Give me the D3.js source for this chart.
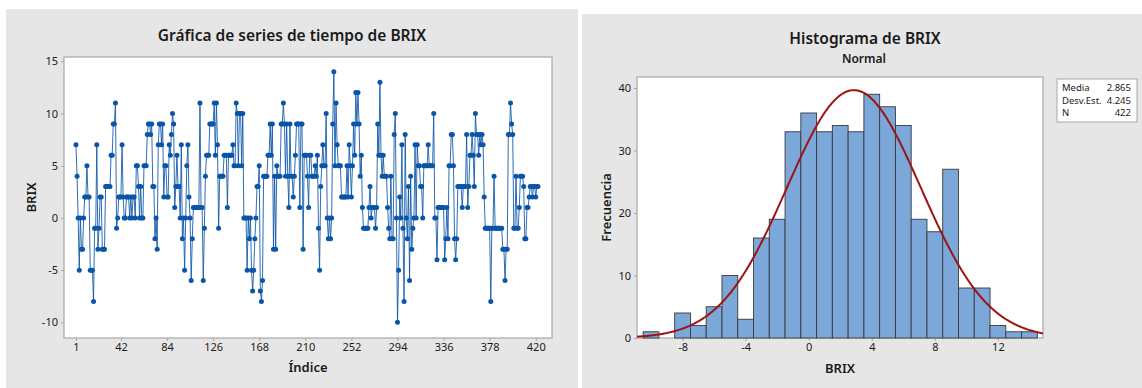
<!DOCTYPE html>
<html>
<head>
<meta charset="utf-8">
<script src="https://cdn.jsdelivr.net/npm/d3@7"></script>
<style>
  body { margin: 0; background: #fff; }
  text { font-family: "Noto Sans", "Open Sans", sans-serif; fill: #1a1a1a; }
</style>
</head>
<body>
<svg id="chart" width="1142" height="388"></svg>
<script>
// BRIX readings in order (index 1..422)
const brix = [
  7, 4, 0, -5, 0, -3, -3, 0, 2, 2,
  5, 2, 2, -5, -5, -5, -8, -1, -1, 7,
  -3, -1, 2, 2, -3, -3, -3, 3, 3, 3,
  3, 3, 6, 6, 9, 9, 11, -1, 0, 2,
  2, 2, 7, 2, 0, 0, 2, 2, 2, 0,
  2, 0, 2, 2, 0, 5, 5, 3, 0, 3,
  0, 0, 5, 5, 5, 8, 9, 9, 8, 9,
  3, 3, -2, 0, -3, 7, 9, 9, 7, 9,
  2, 5, 5, 2, 2, 7, 6, 8, 10, 9,
  1, 3, 6, 3, 3, 0, 7, -2, 0, -5,
  0, 5, 7, 2, 0, -6, -2, 1, 1, 1,
  1, 1, 1, 11, 1, 1, -6, -1, 4, 6,
  6, 6, 9, 9, 9, 9, 11, 6, 11, 7,
  -1, 4, 4, 4, 4, 6, 6, 6, 1, 6,
  6, 6, 6, 7, 5, 5, 11, 10, 5, 10,
  10, 5, 10, 0, 0, 0, -5, 0, -2, 0,
  -5, -7, -5, -2, 0, 3, 3, 5, -7, -8,
  -6, 4, 4, 4, 4, 6, 6, 9, 6, 9,
  -3, 4, -3, 5, 4, 4, 4, 9, 9, 11,
  9, 4, 9, 4, 1, 9, 4, 4, 2, 4,
  6, 9, 9, 9, 1, 9, 9, -3, 6, 6,
  6, 4, 1, 6, 6, 4, 4, 4, 5, 4,
  6, -1, -5, 3, 5, 7, 5, 5, 10, 0,
  -2, 0, -2, 0, 9, 14, 5, 11, 7, 5,
  5, 5, 2, 2, 2, 2, 2, 5, 2, 7,
  5, 2, 5, 9, 6, 12, 9, 12, 9, 4,
  6, 1, -1, -1, -1, -1, -1, 1, 3, 0,
  1, 1, 1, -1, 1, 9, 6, 13, 6, 4,
  6, 4, 4, 4, 1, -1, -2, 4, -2, -2,
  8, 10, 0, -10, -5, 2, 0, 7, -1, -8,
  8, 0, -2, 3, -6, 4, -3, -1, 0, 7,
  0, 7, 5, 5, 3, 3, 0, 5, 5, 5,
  5, 7, 5, 5, 5, 5, 10, 0, 0, -4,
  1, 1, 1, 1, 1, 1, -4, -2, 1, -2,
  5, 5, 8, 8, 5, -2, -4, -2, 3, 3,
  3, 3, 1, 3, 3, 3, 8, 1, 3, 6,
  6, 8, 6, 3, 10, 8, 8, 6, 8, 7,
  8, 7, 2, -1, -1, -1, -1, -1, -8, -1,
  -1, 4, -1, -1, -1, -1, -1, -1, -1, -3,
  -3, -6, -3, -3, 8, 8, 11, 9, 8, -1,
  -1, 4, -1, -1, 1, 4, 4, 4, 3, -2,
  -2, 1, 1, 2, 3, 3, 2, 3, 3, 2,
  3, 3
];

// histogram bins (centre values) and frequencies
const binCenters = [-10, -9, -8, -7, -6, -5, -4, -3, -2, -1, 0, 1, 2, 3, 4, 5, 6, 7, 8, 9, 10, 11, 12, 13, 14];
const binCounts  = [  1,  0,  4,  2,  5, 10,  3, 16, 19, 33, 36, 33, 34, 33, 39, 37, 34, 19, 17, 27,  8,  8,  2,  1,  1];

const indexTicks = [1, 42, 84, 126, 168, 210, 252, 294, 336, 378, 420];
const brixTicks = [-10, -5, 0, 5, 10, 15];
const histTicks = [-8, -4, 0, 4, 8, 12];
const freqTicks = [0, 10, 20, 30, 40];

const statLabels = ["Media", "Desv.Est.", "N"];
const statValues = ["2.865", "4.245", "422"];
const fitMean = 2.865;
const fitSd = 4.245;
const fitN = 422;

const BLUE = "#0a55a8";
const FRAME = "#a8a8a8";
const PANEL = "#e6e6e6";

const svg = d3.select("#chart");

// panel backgrounds
svg.append("rect").attr("x", 6).attr("y", 9).attr("width", 572).attr("height", 379).attr("fill", PANEL);
svg.append("rect").attr("x", 582).attr("y", 14).attr("width", 560).attr("height", 374).attr("fill", PANEL);

// plain hyphen for negatives, like the original software
const plain = d => String(d);

function styleAxis(g) {
    g.select(".domain").remove();
    g.selectAll(".tick line").attr("stroke", FRAME);
    g.selectAll(".tick text")
        .style("font-size", "11px")
        .style("fill", "#1a1a1a")
        .style("font-family", "\"Noto Sans\", sans-serif");
}

// ---------- time series ----------
const ts = { left: 64, right: 552, top: 57, bottom: 338 };

const xIdx = d3.scaleLinear()
    .domain([-9.9, 434.8])
    .range([ts.left, ts.right]);

const yBrix = d3.scaleLinear()
    .domain([-11.5, 15.41])
    .range([ts.bottom, ts.top]);

svg.append("rect")
    .attr("x", ts.left).attr("y", ts.top)
    .attr("width", ts.right - ts.left).attr("height", ts.bottom - ts.top)
    .attr("fill", "#fff").attr("stroke", FRAME).attr("stroke-width", 1.2);

svg.append("g")
    .attr("transform", `translate(0,${ts.bottom})`)
    .call(d3.axisBottom(xIdx).tickValues(indexTicks).tickFormat(plain).tickSize(3).tickPadding(2))
    .call(styleAxis);

svg.append("g")
    .attr("transform", `translate(${ts.left},0)`)
    .call(d3.axisLeft(yBrix).tickValues(brixTicks).tickFormat(plain).tickSize(3).tickPadding(3))
    .call(styleAxis);

const line = d3.line()
    .x((d, i) => xIdx(i + 1))
    .y(d => yBrix(d));

svg.append("path")
    .datum(brix)
    .attr("d", line)
    .attr("fill", "none")
    .attr("stroke", BLUE)
    .attr("stroke-width", 1)
    .attr("stroke-opacity", 0.85);

svg.append("g")
    .selectAll("circle")
    .data(brix)
    .join("circle")
    .attr("cx", (d, i) => xIdx(i + 1))
    .attr("cy", d => yBrix(d))
    .attr("r", 2.5)
    .attr("fill", BLUE);

svg.append("text")
    .attr("x", 292).attr("y", 41)
    .attr("text-anchor", "middle")
    .style("font-size", "15.5px").style("font-weight", 600)
    .text("Gráfica de series de tiempo de BRIX");

svg.append("text")
    .attr("x", (ts.left + ts.right) / 2).attr("y", 372)
    .attr("text-anchor", "middle")
    .style("font-size", "13px").style("font-weight", 600)
    .text("Índice");

svg.append("text")
    .attr("transform", `translate(36,${(ts.top + ts.bottom) / 2}) rotate(-90)`)
    .attr("text-anchor", "middle")
    .style("font-size", "13px").style("font-weight", 600)
    .text("BRIX");

// ---------- histogram ----------
const hs = { left: 637, right: 1043, top: 77, bottom: 338 };

const xHist = d3.scaleLinear()
    .domain([-10.89, 14.86])
    .range([hs.left, hs.right]);

const yFreq = d3.scaleLinear()
    .domain([0, 41.76])
    .range([hs.bottom, hs.top]);

svg.append("rect")
    .attr("x", hs.left).attr("y", hs.top)
    .attr("width", hs.right - hs.left).attr("height", hs.bottom - hs.top)
    .attr("fill", "#fff").attr("stroke", FRAME).attr("stroke-width", 1.2);

svg.append("g")
    .attr("transform", `translate(0,${hs.bottom})`)
    .call(d3.axisBottom(xHist).tickValues(histTicks).tickFormat(plain).tickSize(3).tickPadding(2))
    .call(styleAxis);

svg.append("g")
    .attr("transform", `translate(${hs.left},0)`)
    .call(d3.axisLeft(yFreq).tickValues(freqTicks).tickFormat(plain).tickSize(3).tickPadding(3))
    .call(styleAxis);

const bins = binCenters.map((c, i) => ({ c, n: binCounts[i] })).filter(b => b.n > 0);

svg.append("g")
    .selectAll("rect")
    .data(bins)
    .join("rect")
    .attr("x", d => xHist(d.c - 0.5))
    .attr("y", d => yFreq(d.n))
    .attr("width", d => xHist(d.c + 0.5) - xHist(d.c - 0.5))
    .attr("height", d => yFreq(0) - yFreq(d.n))
    .attr("fill", "#7ba7d9")
    .attr("stroke", "#3a3a3a")
    .attr("stroke-width", 0.9);

// fitted normal curve scaled to counts (bin width 1)
const curveX = d3.range(xHist.domain()[0], xHist.domain()[1] + 0.001, 0.05);
const pdf = x => fitN / (fitSd * Math.sqrt(2 * Math.PI)) * Math.exp(-0.5 * ((x - fitMean) / fitSd) ** 2);

svg.append("path")
    .datum(curveX)
    .attr("d", d3.line().x(d => xHist(d)).y(d => yFreq(pdf(d))))
    .attr("fill", "none")
    .attr("stroke", "#9c1414")
    .attr("stroke-width", 2);

svg.append("text")
    .attr("x", 865).attr("y", 44)
    .attr("text-anchor", "middle")
    .style("font-size", "15.5px").style("font-weight", 600)
    .text("Histograma de BRIX");

svg.append("text")
    .attr("x", 864).attr("y", 63)
    .attr("text-anchor", "middle")
    .style("font-size", "12px").style("font-weight", 600)
    .text("Normal");

svg.append("text")
    .attr("x", (hs.left + hs.right) / 2).attr("y", 373)
    .attr("text-anchor", "middle")
    .style("font-size", "13px").style("font-weight", 600)
    .text("BRIX");

svg.append("text")
    .attr("transform", `translate(611,${(hs.top + hs.bottom) / 2}) rotate(-90)`)
    .attr("text-anchor", "middle")
    .style("font-size", "13px").style("font-weight", 600)
    .text("Frecuencia");

// stats box
const box = svg.append("g").attr("transform", "translate(1057,79)");
box.append("rect")
    .attr("width", 80).attr("height", 43)
    .attr("fill", "#fff").attr("stroke", FRAME).attr("stroke-width", 1);
box.selectAll("text.lbl")
    .data(statLabels)
    .join("text")
    .attr("class", "lbl")
    .attr("x", 5).attr("y", (d, i) => 12 + i * 12.5)
    .style("font-size", "9.5px")
    .text(d => d);
box.selectAll("text.val")
    .data(statValues)
    .join("text")
    .attr("class", "val")
    .attr("x", 74).attr("y", (d, i) => 12 + i * 12.5)
    .attr("text-anchor", "end")
    .style("font-size", "9.5px")
    .text(d => d);
</script>
</body>
</html>
